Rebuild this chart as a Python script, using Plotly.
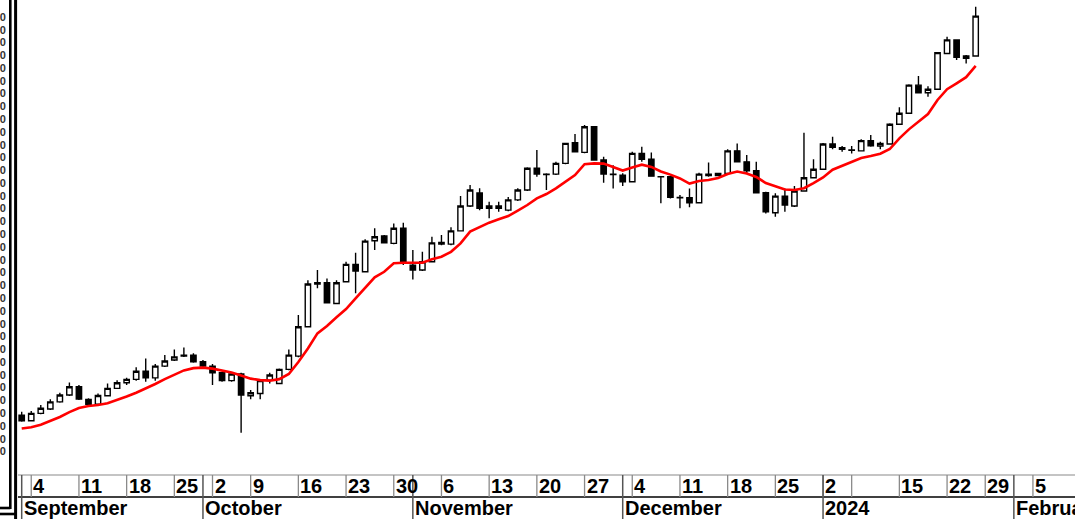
import plotly.graph_objects as go

# ---------------- data ----------------
sep_days = [1, 4, 5, 6, 7, 8, 11, 12, 13, 14, 15, 18, 19, 20, 21, 22, 25, 26, 27]
oct_days = [2, 3, 4, 5, 6, 9, 10, 11, 12, 13, 16, 17, 18, 19, 20, 23, 24, 25, 26, 27, 30, 31]
nov_days = [1, 2, 3, 6, 7, 8, 9, 10, 13, 14, 15, 16, 17, 20, 21, 22, 23, 24, 27, 28, 29, 30]
dec_days = [1, 4, 5, 6, 7, 8, 11, 12, 13, 14, 15, 18, 19, 20, 21, 22, 25, 26, 27, 28, 29]
jan_days = [2, 3, 4, 8, 9, 10, 11, 12, 15, 16, 17, 18, 19, 22, 23, 24, 25]
future_dates = ["2024-01-29", "2024-01-30", "2024-01-31", "2024-02-01", "2024-02-02",
                "2024-02-05", "2024-02-06", "2024-02-07", "2024-02-08", "2024-02-09"]

dates = ([f"2023-09-{d:02d}" for d in sep_days] + [f"2023-10-{d:02d}" for d in oct_days] +
         [f"2023-11-{d:02d}" for d in nov_days] + [f"2023-12-{d:02d}" for d in dec_days] +
         [f"2024-01-{d:02d}" for d in jan_days])

open_ = [42.42, 42.20, 42.49, 42.66, 42.94, 43.21, 43.53, 43.04, 42.85, 43.18,
         43.47, 43.69, 43.82, 44.14, 43.88, 44.34, 44.58, 44.73, 44.77, 44.51,
         44.34, 44.08, 43.77, 44.03, 43.18, 43.27, 43.79, 43.66, 44.21, 44.73,
         45.88, 47.55, 47.60, 46.79, 47.64, 48.32, 48.03, 49.24, 49.43, 49.14,
         49.73, 48.29, 48.10, 48.42, 49.11, 49.11, 49.63, 50.60, 51.11, 50.51,
         50.60, 50.44, 50.84, 51.23, 52.08, 51.85, 51.85, 52.27, 53.08, 52.70,
         53.70, 52.40, 51.85, 51.81, 51.55, 52.66, 52.43, 51.75, 51.75, 50.94,
         50.93, 50.73, 51.85, 51.79, 51.88, 52.76, 52.33, 51.98, 51.12, 50.34,
         50.99, 50.60, 51.19, 51.71, 52.04, 53.03, 52.88, 52.79, 52.76, 53.16,
         52.95, 53.03, 53.80, 54.23, 55.33, 55.03, 55.17, 56.57, 57.10, 56.38,
         56.47]
high = [42.55, 42.58, 42.82, 43.04, 43.30, 43.70, 43.60, 43.08, 43.27, 43.66,
        43.79, 43.88, 44.29, 44.64, 44.42, 44.77, 44.99, 45.07, 44.84, 44.58,
        44.42, 44.12, 44.06, 44.08, 43.40, 43.82, 44.08, 44.25, 44.99, 46.34,
        47.70, 48.10, 47.77, 47.70, 48.42, 48.77, 49.30, 49.73, 49.47, 49.92,
        49.95, 48.88, 48.81, 49.40, 49.47, 49.77, 50.99, 51.42, 51.30, 50.77,
        50.77, 50.95, 51.30, 52.12, 52.79, 51.88, 52.33, 53.08, 53.42, 53.77,
        53.73, 52.53, 52.20, 51.88, 52.72, 52.92, 52.69, 51.76, 51.77, 51.03,
        51.29, 51.90, 52.30, 51.89, 52.82, 53.05, 52.60, 52.33, 51.16, 51.10,
        51.29, 51.38, 53.47, 52.43, 53.07, 53.31, 52.95, 52.95, 53.21, 53.38,
        53.12, 53.84, 54.46, 55.36, 55.69, 55.29, 56.63, 57.22, 57.12, 56.51,
        58.40]
low = [42.16, 42.17, 42.46, 42.62, 42.91, 43.17, 43.01, 42.82, 42.82, 43.15,
       43.44, 43.60, 43.77, 43.73, 43.77, 44.30, 44.54, 44.70, 44.47, 44.29,
       43.60, 43.73, 43.73, 41.73, 43.04, 43.04, 43.66, 43.64, 44.18, 44.69,
       45.87, 47.38, 46.79, 46.77, 47.61, 47.19, 48.00, 48.88, 49.14, 49.11,
       48.29, 47.73, 48.06, 48.39, 49.07, 49.07, 49.60, 50.56, 50.44, 50.12,
       50.38, 50.40, 50.80, 51.19, 51.75, 51.23, 51.81, 52.24, 52.71, 52.67,
       52.38, 51.51, 51.29, 51.38, 51.52, 52.33, 51.75, 50.71, 50.90, 50.51,
       50.55, 50.70, 51.75, 51.77, 51.85, 52.30, 51.88, 51.10, 50.31, 50.18,
       50.38, 50.56, 51.16, 51.68, 52.01, 52.82, 52.72, 52.66, 52.74, 52.92,
       52.82, 53.00, 53.77, 54.20, 55.01, 54.88, 55.14, 56.55, 56.31, 56.18,
       56.45]
close = [42.20, 42.49, 42.69, 42.94, 43.21, 43.53, 43.05, 42.85, 43.19, 43.47,
         43.69, 43.82, 44.14, 43.88, 44.34, 44.54, 44.70, 44.77, 44.51, 44.34,
         44.08, 43.77, 44.03, 43.21, 43.30, 43.77, 43.99, 44.21, 44.77, 45.88,
         47.55, 47.60, 46.82, 47.60, 48.32, 48.06, 49.23, 49.40, 49.16, 49.73,
         48.36, 48.10, 48.42, 49.16, 49.18, 49.63, 50.60, 51.23, 50.51, 50.60,
         50.51, 50.84, 51.23, 52.08, 51.85, 51.83, 52.27, 53.05, 52.72, 53.70,
         52.40, 51.85, 51.83, 51.55, 52.66, 52.43, 51.77, 51.74, 50.94, 50.92,
         50.73, 51.85, 51.79, 51.88, 52.76, 52.33, 51.98, 51.12, 50.38, 50.99,
         50.64, 51.19, 51.71, 52.04, 53.03, 52.90, 52.82, 52.78, 53.16, 52.96,
         53.05, 53.80, 54.23, 55.33, 55.03, 55.17, 56.60, 57.10, 56.42, 56.47,
         58.03]
moving_avg = [41.90, 41.95, 42.05, 42.19, 42.35, 42.54, 42.70, 42.78, 42.82, 42.89,
              43.01, 43.15, 43.30, 43.46, 43.64, 43.83, 44.01, 44.17, 44.26, 44.28,
              44.24, 44.17, 44.09, 43.97, 43.85, 43.79, 43.77, 43.83, 44.03, 44.50,
              45.03, 45.62, 45.91, 46.25, 46.57, 46.99, 47.42, 47.81, 48.03, 48.36,
              48.38, 48.37, 48.38, 48.52, 48.62, 48.81, 49.14, 49.60, 49.79, 49.95,
              50.08, 50.21, 50.42, 50.64, 50.90, 51.07, 51.29, 51.55, 51.81, 52.24,
              52.27, 52.26, 52.13, 51.99, 52.11, 52.22, 52.13, 51.95, 51.83, 51.68,
              51.48, 51.58, 51.62, 51.70, 51.85, 51.95, 51.87, 51.74, 51.50, 51.38,
              51.25, 51.23, 51.30, 51.50, 51.72, 52.02, 52.18, 52.31, 52.48, 52.56,
              52.65, 52.83, 53.25, 53.60, 53.90, 54.20, 54.75, 55.17, 55.40, 55.64,
              56.08]

week_tick_dates = ["2023-09-04", "2023-09-11", "2023-09-18", "2023-09-25", "2023-10-03",
                   "2023-10-09", "2023-10-16", "2023-10-23", "2023-10-30", "2023-11-06",
                   "2023-11-13", "2023-11-20", "2023-11-27", "2023-12-04", "2023-12-11",
                   "2023-12-18", "2023-12-25", "2024-01-02", "2024-01-08", "2024-01-15",
                   "2024-01-22", "2024-01-29", "2024-02-05"]
week_tick_labels = ["4", "11", "18", "25", "2", "9", "16", "23", "30", "6", "13", "20",
                    "27", "4", "11", "18", "25", "2", "", "15", "22", "29", "5"]
month_start_dates = ["2023-09-01", "2023-10-02", "2023-11-01", "2023-12-01",
                     "2024-01-02", "2024-02-01"]
month_labels = ["September", "October", "November", "December", "2024", "February"]
price_tick_values = [41 + 0.5 * k for k in range(36)]

# ---------------- positions on a trading-day scale ----------------
slots = dates + future_dates
slot_index = {d: i for i, d in enumerate(slots)}
x_pos = [slot_index[d] for d in dates]

W, H = 1075, 519
ML = 18
X_RANGE = [-0.388, 110.41]
BAND_TOP = 475  # pixel where the date band starts

fig = go.Figure()
fig.add_trace(go.Candlestick(
    x=x_pos, open=open_, high=high, low=low, close=close,
    increasing=dict(line=dict(color="black", width=1.4), fillcolor="white"),
    decreasing=dict(line=dict(color="black", width=1.4), fillcolor="black"),
    whiskerwidth=0, showlegend=False, hoverinfo="skip",
    xaxis="x", yaxis="y"))
fig.add_trace(go.Scatter(
    x=x_pos, y=moving_avg, mode="lines", line=dict(color="#ff0000", width=2.6),
    showlegend=False, hoverinfo="skip", xaxis="x", yaxis="y"))

band_dom_top = (H - BAND_TOP + 1) / H
shapes = []
annotations = []
label_font = dict(family="Liberation Sans, Arial", size=20, color="black", weight="bold")
# date band lines
shapes.append(dict(type="line", xref="x2", yref="y2", x0=X_RANGE[0], x1=X_RANGE[1],
                   y0=44, y1=44, line=dict(color="#8a8a8a", width=1.2)))
shapes.append(dict(type="line", xref="x2", yref="y2", x0=X_RANGE[0], x1=X_RANGE[1],
                   y0=22, y1=22, line=dict(color="black", width=1.5)))
for d, lab in zip(week_tick_dates, week_tick_labels):
    xv = slot_index[d]
    shapes.append(dict(type="line", xref="x2", yref="y2", x0=xv, x1=xv, y0=22, y1=44,
                       line=dict(color="#8a8a8a", width=1.3)))
    if lab:
        annotations.append(dict(xref="x2", yref="y2", x=xv, y=33, text=lab,
                                showarrow=False, xanchor="left", yanchor="middle", xshift=0,
                                font=label_font))
for d, lab in zip(month_start_dates, month_labels):
    xv = slot_index[d]
    shapes.append(dict(type="line", xref="x2", yref="y2", x0=xv, x1=xv, y0=0, y1=44,
                       line=dict(color="#555555", width=1.5)))
    annotations.append(dict(xref="x2", yref="y2", x=xv, y=11.5, text=lab,
                            showarrow=False, xanchor="left", yanchor="middle", xshift=0,
                            font=label_font))

# double border of the (cut-off) price-label panel on the left
def px_x(p):
    return (p - ML) / (W - ML)

def px_y(p):
    return 1 - p / H

shapes += [
    dict(type="line", xref="paper", yref="paper", x0=px_x(10.3), x1=px_x(10.3),
         y0=px_y(-2), y1=px_y(509), line=dict(color="black", width=2.6)),
    dict(type="line", xref="paper", yref="paper", x0=px_x(-2), x1=px_x(10.3),
         y0=px_y(508), y1=px_y(508), line=dict(color="black", width=2.6)),
    dict(type="line", xref="paper", yref="paper", x0=px_x(15.6), x1=px_x(15.6),
         y0=px_y(-2), y1=px_y(521), line=dict(color="black", width=3)),
    dict(type="line", xref="paper", yref="paper", x0=px_x(-2), x1=px_x(15.6),
         y0=px_y(514), y1=px_y(514), line=dict(color="black", width=2.6)),
]

fig.update_layout(
    width=W, height=H, margin=dict(l=ML, r=0, t=0, b=0, autoexpand=False),
    paper_bgcolor="white", plot_bgcolor="white", showlegend=False,
    boxgap=0.2,
    xaxis=dict(range=X_RANGE, visible=False, rangeslider=dict(visible=False),
               anchor="y", fixedrange=True),
    yaxis=dict(domain=[(H - BAND_TOP) / H, 1], range=[40.08, 58.66],
               tickvals=price_tick_values, tickformat=".2f",
               ticks="outside", ticklen=9, tickcolor="rgba(0,0,0,0)",
               showgrid=False, zeroline=False, showline=False, automargin=False,
               tickfont=dict(family="Liberation Sans, Arial", size=11, color="#333333",
                             weight="bold"),
               anchor="x"),
    xaxis2=dict(matches="x", range=X_RANGE, visible=False, anchor="y2"),
    yaxis2=dict(domain=[0, band_dom_top], range=[0, 45], visible=False, anchor="x2"),
    shapes=shapes, annotations=annotations,
)

fig.write_html(
    "out.html",
    config={"staticPlot": True},
    post_script="document.body.style.margin='0';document.body.style.padding='0';"
                "document.body.style.overflow='hidden';",
)
